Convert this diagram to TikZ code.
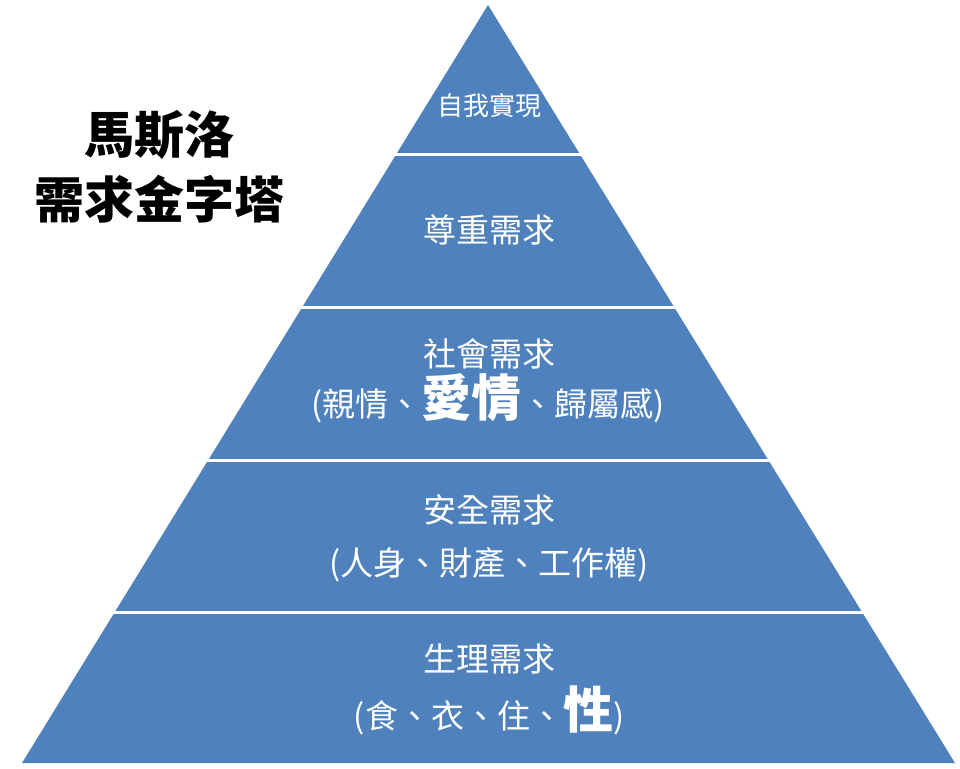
\documentclass[tikz,border=0pt]{standalone}
\usepackage{fontspec}
\newfontfamily\cjk{Noto Sans CJK TC}
\definecolor{pyrblue}{HTML}{4F81BD}
\newcommand\bigword[1]{{\bfseries\fontsize{50}{54}\selectfont #1}}
\tikzset{
  tier/.style={text=white,anchor=base,inner sep=0pt,font=\cjk\fontsize{33}{36}\selectfont},
  title/.style={text=black,anchor=base,inner sep=0pt,font=\cjk\bfseries\fontsize{50}{54}\selectfont}
}
\begin{document}
\begin{tikzpicture}[x=1pt,y=-1pt]
\useasboundingbox (0,0) rectangle (960,768);
% pyramid and the white cuts between the levels
\fill[pyrblue] (488,5) -- (22,763) -- (955,763) -- cycle;
\foreach \y in {154,307,460,612} \draw[white,line width=3pt] (0,\y) -- (960,\y);
% title
\node[title] (t1) at (159,153) {馬斯洛};
\node[title] (t2) at (159,218) {需求金字塔};
% levels, top to bottom
\node[tier,font=\cjk\fontsize{26}{30}\selectfont] (self) at (489,115) {自我實現};
\node[tier] (esteem) at (489,242) {尊重需求};
\node[tier] (social) at (489,366) {社會需求};
\node[tier] (social2) at (488,416) {(親情、\bigword{愛情}、歸屬感)};
\node[tier] (safety) at (489,522) {安全需求};
\node[tier] (safety2) at (489,575) {(人身、財產、工作權)};
\node[tier] (body) at (489,671) {生理需求};
\node[tier] (body2) at (489,728) {(食、衣、住、\bigword{性})};
\end{tikzpicture}
\end{document}
